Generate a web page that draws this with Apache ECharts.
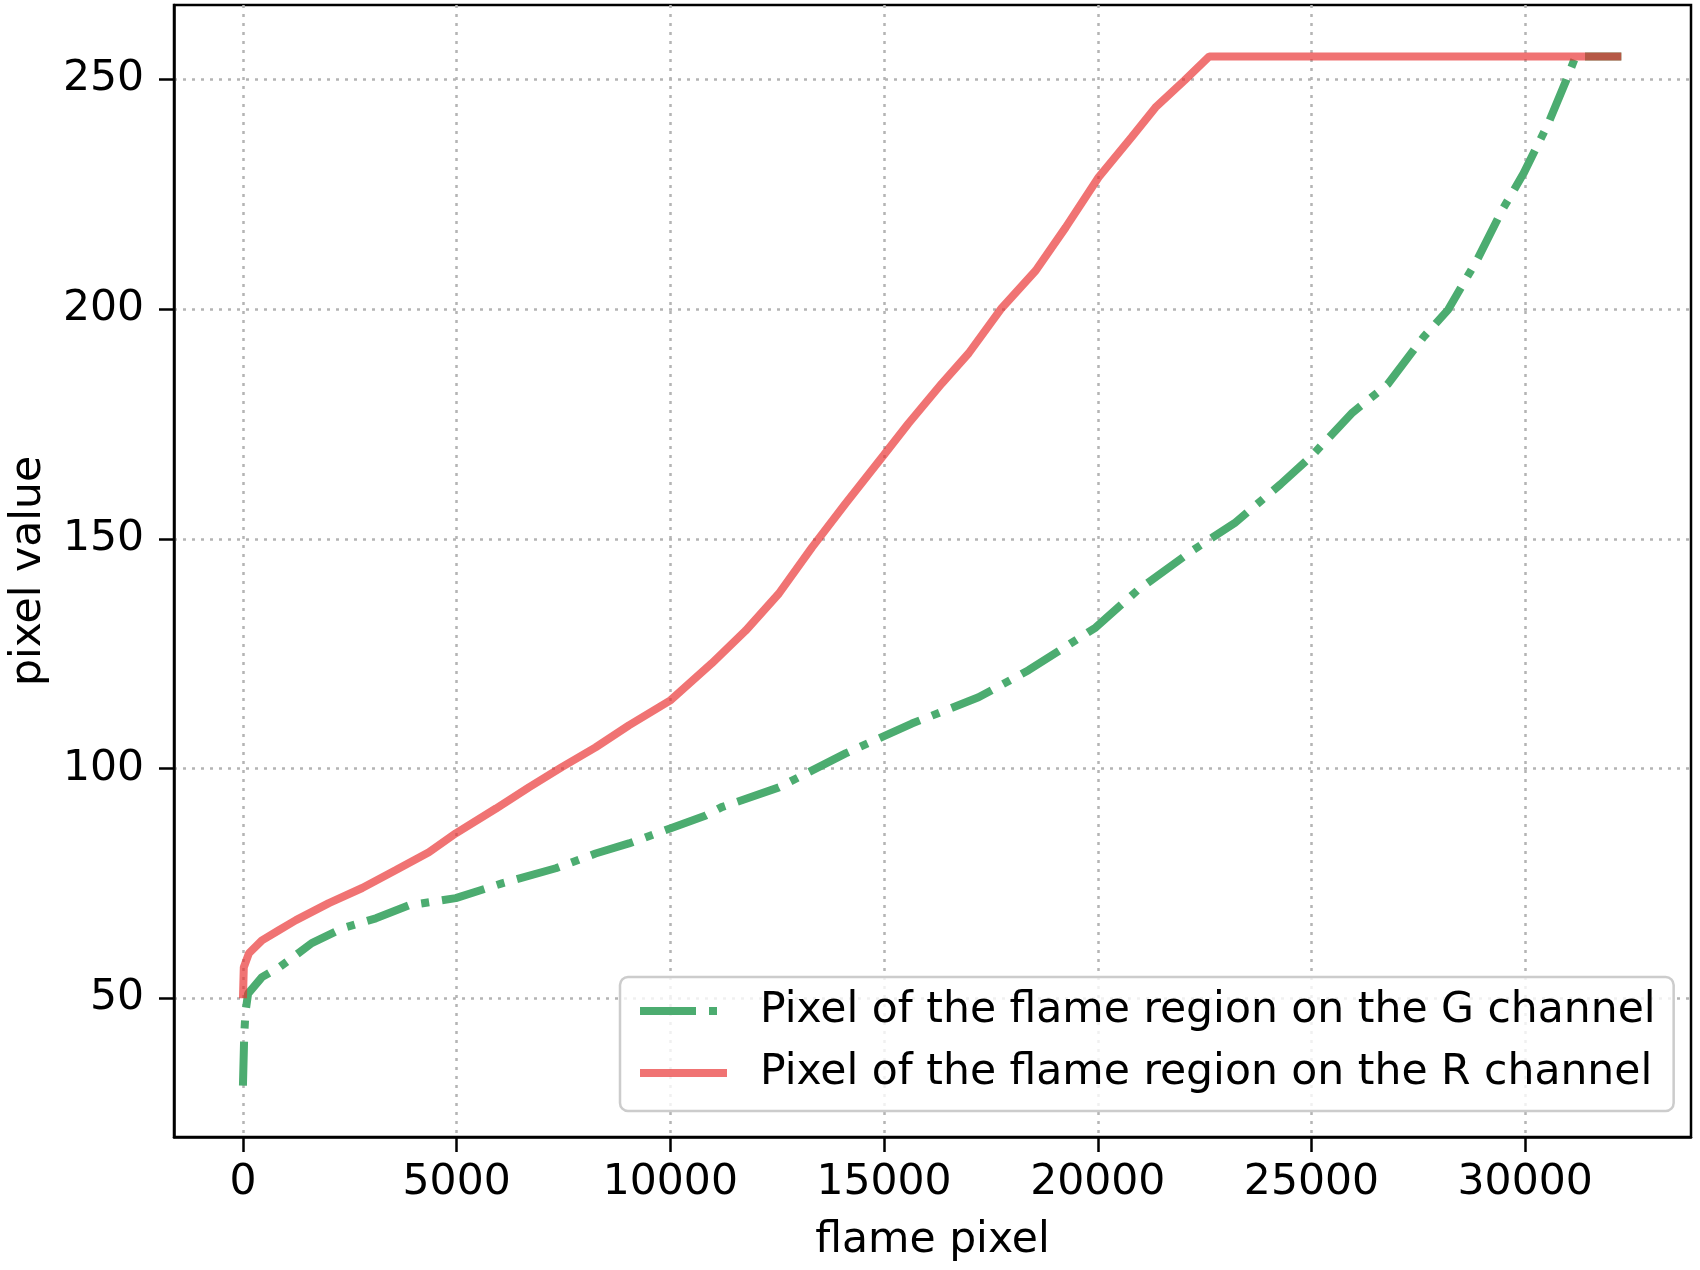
<!DOCTYPE html>
<html lang="en">
<head>
    <meta charset="UTF-8">
    <title>flame pixel</title>
    <style>
        html, body {
            margin: 0;
            padding: 0;
            background: #ffffff;
        }

        #main {
            width: 1700px;
            height: 1270px;
        }
    </style>
</head>
<body>
<div id="main"></div>
<script src="https://cdn.jsdelivr.net/npm/echarts@6/dist/echarts.min.js"></script>
<script>
    // values
    const gPixel = [0, 30, 60, 120, 445, 840, 1240, 1610, 2320, 3110, 3880, 4980, 6060, 7320, 8250, 9030, 10010, 10830,
        11200, 12540, 14100, 15650, 17210, 18380, 19950, 20930, 22190, 23200, 24280, 25020, 25960, 26780, 27620,
        28200, 28880, 29470, 29960, 30540, 30960, 31180, 32250]
    const gValue = [31, 42, 47, 51, 54.6, 56.7, 59.4, 62, 65.2, 67.4, 70.2, 71.8, 75, 78.3, 81.5, 83.7, 87, 89.8,
        91.6, 95.9, 103.3, 109.8, 115.5, 121.4, 130.7, 138.8, 147.3, 153.4, 161.9, 168.2, 177.5, 183.6, 193.9,
        199.9, 210.8, 221.7, 229.5, 240.4, 249.8, 255, 255]
    const rPixel = [0, 20, 140, 445, 840, 1240, 2010, 2790, 3580, 4350, 4980, 5920, 6690, 7460, 8250, 9030, 10010,
        10970, 11760, 12540, 13310, 14100, 14990, 15570, 16350, 16980, 17750, 18550, 19250, 20020, 20790, 21350,
        22030, 22610, 32250]
    const rValue = [50, 56.7, 59.8, 62.6, 64.8, 67, 70.7, 74, 77.9, 81.8, 85.9, 91.3, 95.9, 100.3, 104.6, 109.4, 114.9,
        122.9, 130, 138.1, 148.1, 157.7, 168.2, 175.1, 183.8, 190.4, 200.2, 208.4, 217.8, 228.7, 237.4, 243.9,
        249.8, 255, 255]
    const xTicks = [0, 5000, 10000, 15000, 20000, 25000, 30000]
    const yTicks = [50, 100, 150, 200, 250]
    const names = ['Pixel of the flame region on the G channel', 'Pixel of the flame region on the R channel']

    const zip = (xs, ys) => xs.map((x, i) => [x, ys[i]])

    const font = 'DejaVu Sans'
    const fontSize = 42.5
    const green = 'rgb(76,172,112)'
    const red = 'rgba(233,48,48,0.68)'
    const gridLine = {show: true, lineStyle: {color: '#b4b4b4', width: 2.5, type: [3, 6]}}

    let myChart = echarts.init(document.querySelector('#main'))
    let option = {
        animation: false,
        backgroundColor: '#ffffff',
        grid: {
            left: 174, top: 5, right: 9, bottom: 133,
            show: true, borderColor: '#000', borderWidth: 2.5,
            outerBoundsMode: 'none'
        },
        legend: {
            data: [
                {name: names[0], lineStyle: {color: green, width: 8, type: [56, 13, 8, 30]}},
                {name: names[1], lineStyle: {color: red, width: 8, type: 'solid'}}
            ],
            orient: 'vertical',
            left: 620, top: 977,
            padding: [10, 18, 14, 16],
            itemWidth: 87, itemHeight: 14, itemGap: 14,
            itemStyle: {opacity: 0},
            backgroundColor: 'rgba(255,255,255,0.8)',
            borderColor: '#cccccc', borderWidth: 2.5, borderRadius: 8,
            textStyle: {fontFamily: font, fontSize: fontSize, color: '#000', lineHeight: 48, padding: [0, 0, 0, 28]}
        },
        xAxis: {
            type: 'value',
            min: -1613, max: 33880,
            name: 'flame pixel', nameLocation: 'middle', nameGap: 82, nameMoveOverlap: false,
            nameTextStyle: {fontFamily: font, fontSize: fontSize, color: '#000'},
            axisLine: {onZero: false, lineStyle: {color: '#000', width: 2.5}},
            axisTick: {customValues: xTicks, length: 15, lineStyle: {color: '#000', width: 2.5}},
            axisLabel: {
                customValues: xTicks, fontFamily: font, fontSize: fontSize, color: '#000', margin: 24,
                formatter: v => String(v)
            },
            splitLine: gridLine
        },
        yAxis: {
            type: 'value',
            min: 19.8, max: 266.2,
            name: 'pixel value', nameLocation: 'middle', nameGap: 124, nameMoveOverlap: false,
            nameTextStyle: {fontFamily: font, fontSize: fontSize, color: '#000'},
            axisLine: {onZero: false, lineStyle: {color: '#000', width: 2.5}},
            axisTick: {customValues: yTicks, length: 15, lineStyle: {color: '#000', width: 2.5}},
            axisLabel: {
                customValues: yTicks, fontFamily: font, fontSize: fontSize, color: '#000', margin: 30,
                formatter: v => String(v)
            },
            splitLine: gridLine
        },
        series: [
            {
                name: names[0],
                type: 'line',
                data: zip(gPixel, gValue),
                symbol: 'none',
                lineStyle: {color: green, width: 8, type: [44, 13, 8, 13]},
                itemStyle: {color: green}
            },
            {
                name: names[1],
                type: 'line',
                data: zip(rPixel, rValue),
                symbol: 'none',
                lineStyle: {color: red, width: 8, type: 'solid'},
                itemStyle: {color: red}
            }
        ]
    }
    myChart.setOption(option)
</script>
</body>
</html>
